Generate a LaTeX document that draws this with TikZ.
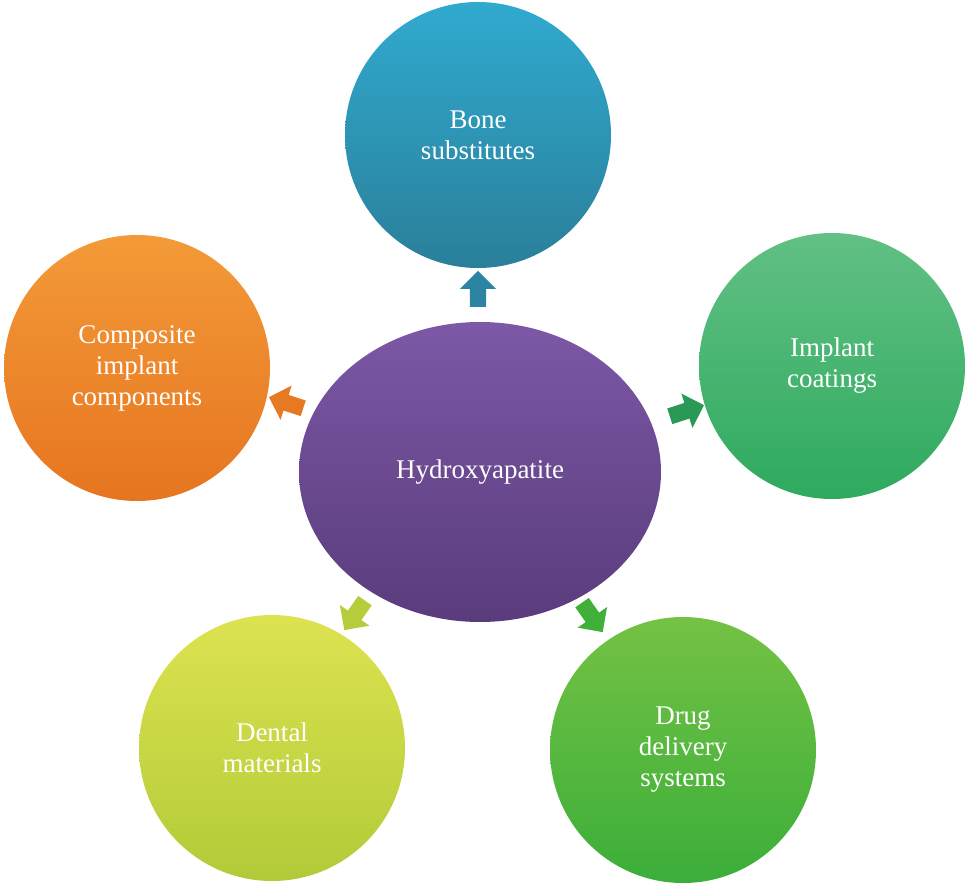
\documentclass[tikz,border=0pt]{standalone}
\usepackage{fontspec}
\setmainfont{Liberation Serif}
\usetikzlibrary{shapes.arrows,shapes.geometric}
\definecolor{pT}{HTML}{7C58A6}\definecolor{pB}{HTML}{5A3C7C}
\definecolor{bT}{HTML}{30AACF}\definecolor{bB}{HTML}{2A7F9A}
\definecolor{iT}{HTML}{62C085}\definecolor{iB}{HTML}{2EAA5E}
\definecolor{cT}{HTML}{F39A38}\definecolor{cB}{HTML}{E67520}
\definecolor{dT}{HTML}{DDE350}\definecolor{dB}{HTML}{B3CA38}
\definecolor{gT}{HTML}{74C244}\definecolor{gB}{HTML}{3BAE3A}
\tikzset{
 x=1pt,y=1pt,
 bubble/.style={ellipse,minimum width=266pt,minimum height=266pt,text=white,align=center,font=\fontsize{27}{31}\selectfont},
 blk/.style={single arrow,minimum height=36pt,minimum width=36pt,single arrow head extend=5pt,inner sep=4pt}
}
\begin{document}
\begin{tikzpicture}
\useasboundingbox (0,0) rectangle (970,-886);
\node[bubble,minimum width=362pt,minimum height=300pt,top color=pT,bottom color=pB] (hub) at (480,-472) {Hydroxyapatite};
\node[bubble,top color=bT,bottom color=bB] (bone) at (478,-135) {Bone\\substitutes};
\node[bubble,top color=iT,bottom color=iB] (impl) at (832,-366) {Implant\\coatings};
\node[bubble,top color=cT,bottom color=cB] (comp) at (137,-368) {Composite\\implant\\components};
\node[bubble,top color=dT,bottom color=dB] (dent) at (272,-748) {Dental\\materials};
\node[bubble,top color=gT,bottom color=gB] (drug) at (683,-750) {Drug\\delivery\\systems};
\node[blk,rotate=90,fill=bB!85!bT] (a1) at (478,-293) {};
\node[blk,rotate=18,fill=iB!90!black] (a2) at (683,-412) {};
\node[blk,rotate=162,fill=cB!90!cT] (a3) at (290,-404) {};
\node[blk,rotate=-125,fill=dB!90!dT] (a4) at (357,-612) {};
\node[blk,rotate=-55,fill=gB!90!gT] (a5) at (590,-614) {};
\end{tikzpicture}
\end{document}
